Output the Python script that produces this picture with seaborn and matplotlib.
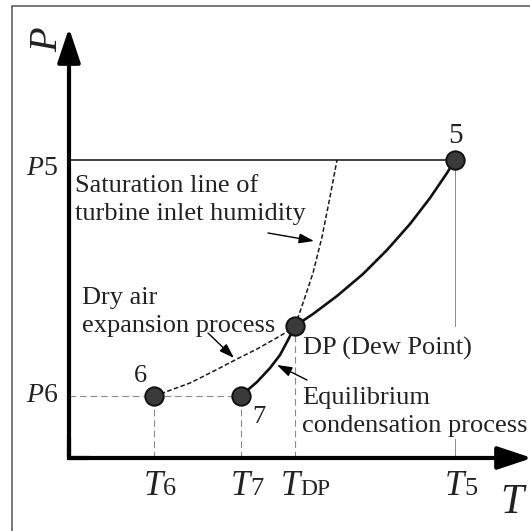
import matplotlib
matplotlib.use("Agg")
import matplotlib.pyplot as plt
import seaborn as sns
import pandas as pd
from matplotlib.lines import Line2D

sns.set_style("white")
plt.rcParams["font.family"] = ["Liberation Serif", "DejaVu Serif"]
plt.rcParams["mathtext.fontset"] = "custom"
plt.rcParams["mathtext.rm"] = "Liberation Serif"
plt.rcParams["mathtext.it"] = "Liberation Serif:italic"

# ---- data (schematic T-P diagram, arbitrary units) ----
point_names = ["5", "6", "7", "DP"]
point_T = [386, 85, 172, 226]
point_P = [298, 62, 62, 132]

dry_T = [85, 91, 121, 145, 168, 188, 204, 216, 226]
dry_P = [62, 64, 75, 87, 99, 109, 118, 125, 132]

eq_T = [172, 174, 188, 201, 211, 219, 226, 244, 268, 294, 318, 341, 361, 378, 386]
eq_P = [62, 64, 76, 90, 103, 118, 132, 144, 162, 184, 208, 234, 260, 285, 298]

sat_T = [226, 234, 244, 253, 261, 268]
sat_P = [132, 155, 185, 221, 261, 298]

tick_labels = ["6", "7", "DP", "5"]
tick_T = [85, 172, 226, 386]
P_labels = ["5", "6"]
P_values = [298, 62]

T5, P5 = point_T[0], point_P[0]
T6, P6 = point_T[1], point_P[1]
T7 = point_T[2]
TDP, PDP = point_T[3], point_P[3]

TXT = "#222222"
FS = 19
COND_BASE = 26  # baseline of "condensation process" label

fig = plt.figure(figsize=(5.30, 5.31), dpi=100)
ax = fig.add_axes([0, 0, 1, 1])

# frame lines (top and left) of the figure
fig.add_artist(Line2D([12 / 530, 1], [1 - 6 / 531, 1 - 6 / 531], color="#555555", lw=1.1, transform=fig.transFigure))
fig.add_artist(Line2D([12 / 530, 12 / 530], [0, 1 - 6 / 531], color="#555555", lw=1.1, transform=fig.transFigure))

# guide lines
guide = dict(color="#8a8a8a", lw=0.8, linestyle=(0, (6, 3.5)), zorder=1)
ax.plot([0, T7], [P6, P6], **guide)
ax.plot([T6, T6], [0, P6], **guide)
ax.plot([T7, T7], [0, P6], **guide)
ax.plot([TDP, TDP], [0, PDP], **guide)
ax.plot([T5, T5], [PDP, P5], color="#8a8a8a", lw=0.7, zorder=1)
ax.plot([T5, T5], [0, COND_BASE], color="#8a8a8a", lw=0.7, zorder=1)
ax.plot([0, T5], [P5, P5], color="#333333", lw=1.3, zorder=2)

# curves
sns.lineplot(x=dry_T, y=dry_P, sort=False, estimator=None, ax=ax, color="#1a1a1a",
             lw=1.1, linestyle=(0, (3, 1.6)), zorder=3)
sns.lineplot(x=sat_T, y=sat_P, sort=False, estimator=None, ax=ax, color="#1a1a1a",
             lw=1.1, linestyle=(0, (3, 1.6)), zorder=3)
sns.lineplot(x=eq_T, y=eq_P, sort=False, estimator=None, ax=ax, color="#111111",
             lw=1.9, zorder=3)

# state points
pts = pd.DataFrame({"T": point_T, "P": point_P, "name": point_names})
sns.scatterplot(data=pts, x="T", y="P", ax=ax, s=175, color="#3a3a3a",
                edgecolor="#111111", linewidth=1.4, zorder=5, legend=False)
ax.set_xlim(-69, 461)
ax.set_ylim(-73, 458)
ax.axis("off")

# axes with arrows
axis_arrow = dict(arrowstyle="-|>,head_length=21,head_width=7", lw=3, color="black",
                  shrinkA=0, shrinkB=0, mutation_scale=1)
ax.annotate("", xy=(0, 430), xytext=(0, 0), arrowprops=axis_arrow, zorder=4)
ax.annotate("", xy=(463, 0), xytext=(0, 0), arrowprops=axis_arrow, zorder=4, annotation_clip=False)
ax.plot([0, 0, 20], [20, 0, 0], color="black", lw=3, solid_joinstyle="miter",
        solid_capstyle="butt", zorder=4)

# axis titles
ax.text(-21, 418, "P", fontsize=29, style="italic", rotation=90, ha="center", va="center", color=TXT)
ax.text(431, -55, "T", fontsize=30, style="italic", ha="left", va="baseline", color=TXT)

# P tick labels
for lab, pv, base in zip(P_labels, P_values, [283, 56]):
    ax.text(-11, base, "$P$" + lab, fontsize=20, ha="right", va="baseline", color=TXT)

# T tick labels
for lab, tv in zip(tick_labels, tick_T):
    off = 5 if lab == "DP" else 9
    ax.text(tv + off, -37, "T", fontsize=25, style="italic", ha="right", va="baseline", color=TXT)
    ax.text(tv + off, -37, lab, fontsize=19 if lab != "DP" else 17, ha="left", va="baseline", color=TXT)

# point labels
ax.text(386, 315, "5", fontsize=21, ha="center", va="baseline", color=TXT)
ax.text(71, 76, "6", fontsize=19, ha="center", va="baseline", color=TXT)
ax.text(190, 35, "7", fontsize=19, ha="center", va="baseline", color=TXT)

# annotations
ax.text(6, 266, "Saturation line of", fontsize=FS, ha="left", va="baseline", color=TXT)
ax.text(6, 238, "turbine inlet humidity", fontsize=FS, ha="left", va="baseline", color=TXT)
ax.text(13, 154, "Dry air", fontsize=FS, ha="left", va="baseline", color=TXT)
ax.text(13, 126, "expansion process", fontsize=FS, ha="left", va="baseline", color=TXT)
box = dict(facecolor="white", edgecolor="none", pad=1.5)
ax.text(234, 103, "DP (Dew Point)", fontsize=FS, ha="left", va="baseline", color=TXT, zorder=6)
ax.text(233, 54, "Equilibrium", fontsize=FS, ha="left", va="baseline", color=TXT, zorder=6)
ax.text(233, COND_BASE, "condensation process", fontsize=FS, ha="left", va="baseline", color=TXT,
        bbox=box, zorder=6)

note_arrow = dict(arrowstyle="-|>,head_length=9,head_width=3", lw=1.0, color="black",
                  shrinkA=0, shrinkB=0, mutation_scale=1)
ax.annotate("", xy=(245, 217), xytext=(199, 225), arrowprops=note_arrow, zorder=6)
ax.annotate("", xy=(165, 100), xytext=(139, 125), arrowprops=note_arrow, zorder=6)
ax.annotate("", xy=(208, 93), xytext=(238, 78), arrowprops=note_arrow, zorder=6)

fig.savefig("out.png", dpi=100)
